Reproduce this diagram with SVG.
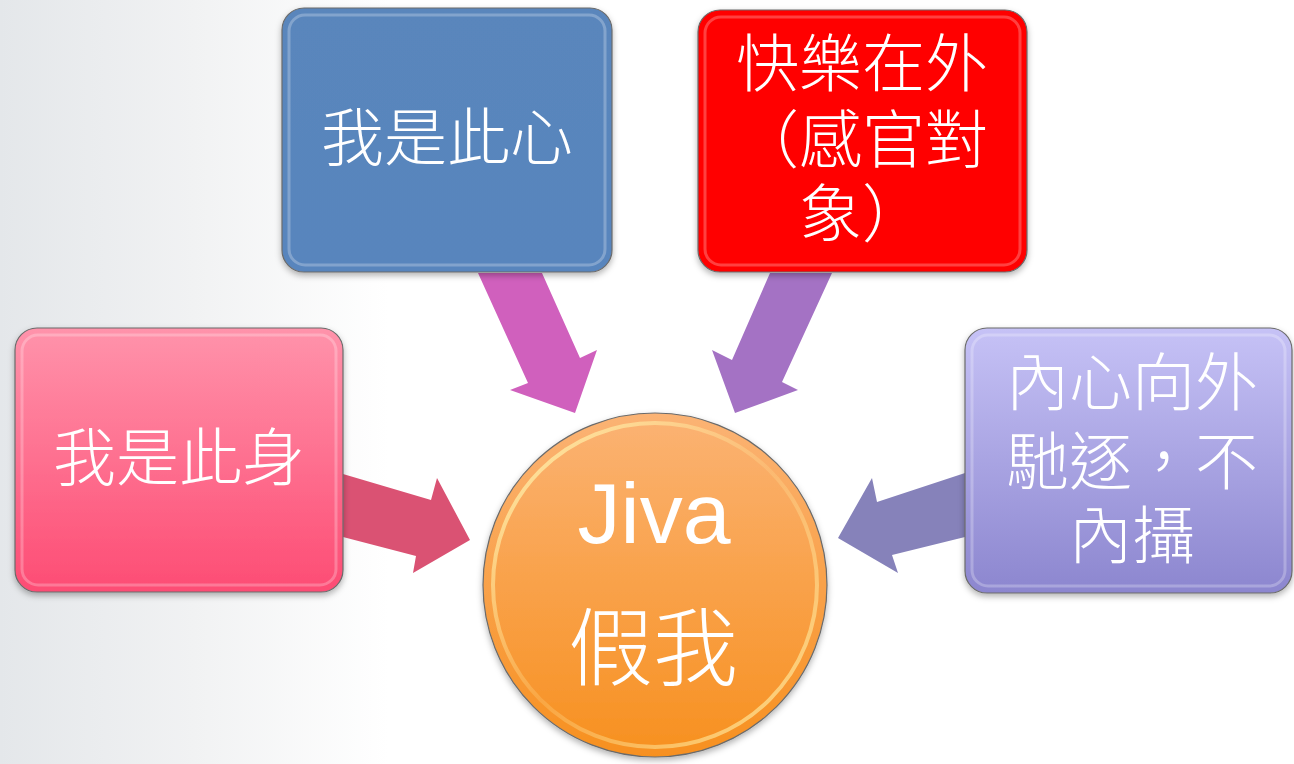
<svg xmlns="http://www.w3.org/2000/svg" width="1294" height="764" viewBox="0 0 1294 764">
<defs>
<style>
.cjk{font-family:"Noto Sans CJK TC","Noto Sans CJK SC",sans-serif;font-weight:300;fill:#fff;text-anchor:middle;font-size:63px}
.big{font-size:85px}
.lat{font-family:"Liberation Sans",Arial,sans-serif;fill:#fff;text-anchor:middle;font-size:86px}
.frame{stroke:#6b6b6b;stroke-width:1.2}
.bevel{fill:none;stroke:#fff;stroke-opacity:.25;stroke-width:3}
.arrow{stroke:none}
</style>
<linearGradient id="bg" x1="0" y1="0" x2="1" y2="0">
<stop offset="0" stop-color="#E4E7EA"/>
<stop offset="0.15" stop-color="#F1F2F3"/>
<stop offset="0.3" stop-color="#FFFFFF"/>
</linearGradient>
<linearGradient id="gPink" x1="0" y1="0" x2="0" y2="1">
<stop offset="0" stop-color="#FF93AB"/>
<stop offset="1" stop-color="#FD4C74"/>
</linearGradient>
<linearGradient id="gBlue" x1="0" y1="0" x2="0" y2="1">
<stop offset="0" stop-color="#5A86BC"/>
<stop offset="1" stop-color="#5885BD"/>
</linearGradient>
<linearGradient id="gRed" x1="0" y1="0" x2="0" y2="1">
<stop offset="0" stop-color="#FF0000"/>
<stop offset="1" stop-color="#FF0000"/>
</linearGradient>
<linearGradient id="gLav" x1="0" y1="0" x2="0" y2="1">
<stop offset="0" stop-color="#C6C2F6"/>
<stop offset="1" stop-color="#8C86CF"/>
</linearGradient>
<linearGradient id="gOrange" x1="0" y1="0" x2="0" y2="1">
<stop offset="0" stop-color="#FBB374"/>
<stop offset="1" stop-color="#F7901F"/>
</linearGradient>
<linearGradient id="gRim" x1="0" y1="0" x2="1" y2="1">
<stop offset="0" stop-color="#FFF6B0" stop-opacity="0.9"/>
<stop offset="0.5" stop-color="#FFE9A0" stop-opacity="0.2"/>
<stop offset="1" stop-color="#FFF2A8" stop-opacity="0.8"/>
</linearGradient>
<filter id="shadow" x="-10%" y="-10%" width="120%" height="125%">
<feDropShadow dx="0" dy="3" stdDeviation="3" flood-color="#000" flood-opacity="0.3"/>
</filter>
</defs>

<rect x="0" y="0" width="1294" height="764" fill="url(#bg)"/>

<g id="connectors">
<polygon class="arrow" fill="#DA5273" points="343,474 431,500 437,478 470,540 413,573 416,556 343,537"/>
<polygon class="arrow" fill="#D060BD" points="478,273 542,273 580,358 597,350 575,413 510,390 528,383"/>
<polygon class="arrow" fill="#A472C4" points="770,273 832,273 782,382 798,390 735,413 712,350 732,360"/>
<polygon class="arrow" fill="#8682BA" points="965,473 877,502 872,478 838,538 898,573 892,555 965,537"/>
</g>

<g id="node-body">
<rect class="frame" x="15" y="328" width="328" height="264" rx="22" fill="url(#gPink)" filter="url(#shadow)"/>
<rect class="bevel" x="22" y="335" width="314" height="250" rx="16"/>
<text class="cjk" x="179" y="480">我是此身</text>
</g>

<g id="node-mind">
<rect class="frame" x="282" y="8" width="330" height="264" rx="22" fill="url(#gBlue)" filter="url(#shadow)"/>
<rect class="bevel" x="289" y="15" width="316" height="250" rx="16"/>
<text class="cjk" x="447" y="160">我是此心</text>
</g>

<g id="node-pleasure">
<rect class="frame" x="698" y="10" width="329" height="262" rx="22" fill="url(#gRed)" filter="url(#shadow)"/>
<rect class="bevel" x="705" y="17" width="315" height="248" rx="16"/>
<text class="cjk"><tspan x="862" y="86">快樂在外</tspan><tspan x="862" y="162">（感官對</tspan><tspan x="862" y="236">象）</tspan></text>
</g>

<g id="node-outward">
<rect class="frame" x="965" y="328" width="327" height="265" rx="22" fill="url(#gLav)" filter="url(#shadow)"/>
<rect class="bevel" x="972" y="335" width="313" height="251" rx="16"/>
<text class="cjk"><tspan x="1132" y="405">內心向外</tspan><tspan x="1132" y="484">馳逐，不</tspan><tspan x="1132" y="558">內攝</tspan></text>
</g>

<g id="node-jiva">
<circle class="frame" cx="655" cy="585" r="172" fill="url(#gOrange)" filter="url(#shadow)" stroke="#8E6A44"/>
<circle cx="655" cy="585" r="162" fill="none" stroke="url(#gRim)" stroke-width="4"/>
<text class="lat" x="654" y="543">Jiva</text>
<text class="cjk big" x="653" y="679">假我</text>
</g>
</svg>
